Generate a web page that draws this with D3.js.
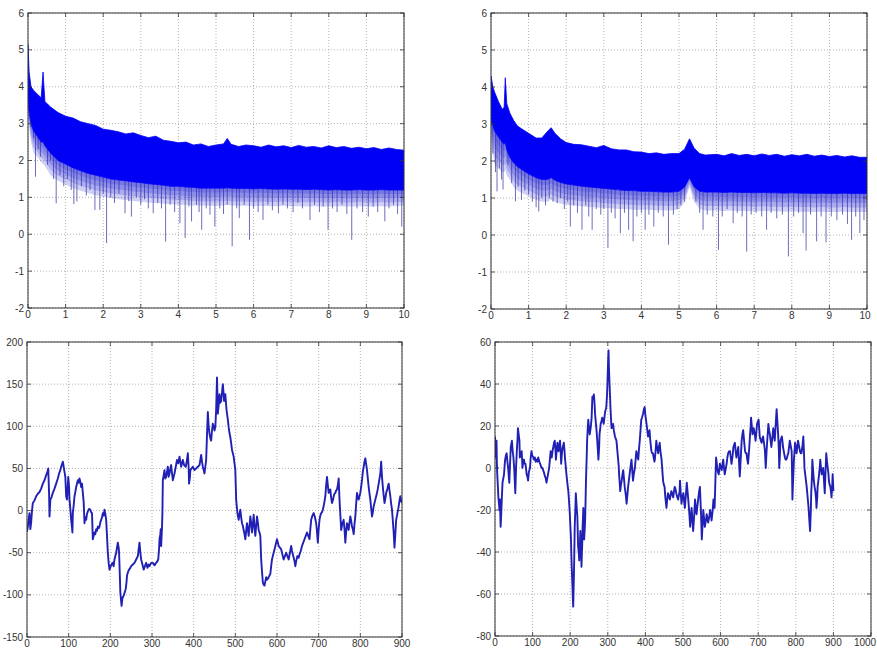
<!DOCTYPE html>
<html>
<head>
<meta charset="utf-8">
<script src="https://cdn.jsdelivr.net/npm/d3@7"></script>
<style>
  body { margin: 0; background: #fff; }
  svg text { font-family: "Liberation Sans", Arial, sans-serif; font-size: 10px; fill: #333; }
</style>
</head>
<body>
<svg id="fig" width="877" height="653"></svg>
<script>
// ---- top left spectrum: band edges ----
const tlX = [0,0.03,0.08,0.15,0.25,0.35,0.4,0.45,0.6,0.8,1.0,1.2,1.4,1.6,1.8,2.0,2.2,2.4,2.6,2.8,3.0,3.2,3.4,3.6,3.8,4.0,4.2,4.4,4.6,4.8,5.0,5.2,5.3,5.4,5.6,5.8,6.0,6.2,6.4,6.6,6.8,7.0,7.2,7.4,7.6,7.8,8.0,8.2,8.4,8.6,8.8,9.0,9.2,9.4,9.6,9.8,10];
const tlTop = [5.15,4.4,4.0,3.9,3.8,3.7,4.4,3.6,3.45,3.3,3.2,3.15,3.05,3.0,2.95,2.85,2.82,2.78,2.72,2.75,2.68,2.62,2.66,2.55,2.52,2.48,2.5,2.42,2.45,2.38,2.42,2.45,2.6,2.44,2.38,2.42,2.4,2.36,2.42,2.37,2.4,2.35,2.41,2.36,2.38,2.34,2.4,2.35,2.38,2.33,2.36,2.32,2.35,2.3,2.34,2.3,2.28];
const tlBottom = [3.6,3.3,3.0,2.8,2.65,2.5,2.5,2.4,2.2,2.0,1.9,1.8,1.72,1.65,1.6,1.55,1.5,1.47,1.45,1.42,1.4,1.37,1.35,1.33,1.3,1.3,1.28,1.27,1.25,1.25,1.25,1.25,1.26,1.25,1.24,1.24,1.23,1.24,1.23,1.22,1.23,1.22,1.22,1.21,1.22,1.21,1.2,1.21,1.2,1.2,1.21,1.2,1.2,1.21,1.2,1.2,1.2];
const tlFringe = [3.1,2.9,2.5,2.2,2.1,1.95,1.9,1.85,1.6,1.45,1.35,1.25,1.18,1.12,1.06,1.02,0.98,0.95,0.93,0.9,0.88,0.86,0.85,0.83,0.82,0.8,0.8,0.78,0.78,0.77,0.77,0.78,0.8,0.78,0.77,0.77,0.76,0.77,0.76,0.76,0.77,0.76,0.76,0.75,0.76,0.75,0.75,0.76,0.75,0.75,0.76,0.75,0.75,0.76,0.75,0.76,0.78];
const tlSpikes = [[0.08,2.9],[0.15,2.6],[0.2,1.56],[0.27,2.3],[0.33,2.1],[0.45,2.4],[0.52,1.88],[0.6,2.0],[0.68,1.5],[0.75,0.84],[0.85,1.6],[0.95,1.3],[1.05,1.5],[1.15,1.2],[1.22,0.82],[1.3,0.89],[1.42,1.3],[1.55,1.05],[1.65,1.2],[1.78,0.66],[1.91,0.66],[2.0,1.1],[2.09,-0.24],[2.2,1.0],[2.3,0.85],[2.42,1.1],[2.58,0.57],[2.68,0.9],[2.75,0.48],[2.88,1.0],[3.0,0.8],[3.1,0.95],[3.2,0.7],[3.33,0.57],[3.45,0.85],[3.55,0.7],[3.66,-0.2],[3.78,0.8],[3.9,0.6],[4.04,0.3],[4.18,-0.1],[4.28,0.75],[4.35,0.35],[4.48,0.8],[4.55,0.6],[4.62,0.12],[4.74,0.7],[4.84,0.53],[4.97,0.21],[5.1,0.7],[5.2,0.55],[5.3,0.8],[5.43,-0.33],[5.55,0.7],[5.62,0.44],[5.75,0.8],[5.89,-0.15],[6.0,0.7],[6.12,0.6],[6.25,0.39],[6.38,0.8],[6.5,0.65],[6.66,0.57],[6.78,0.8],[6.9,0.7],[7.05,0.6],[7.18,0.85],[7.3,0.7],[7.5,0.39],[7.62,0.8],[7.75,0.6],[7.85,0.75],[7.98,0.12],[8.1,0.7],[8.22,0.6],[8.35,0.8],[8.48,0.55],[8.61,-0.15],[8.75,0.7],[8.9,0.6],[9.05,0.48],[9.18,0.75],[9.3,0.6],[9.49,0.35],[9.6,0.7],[9.72,0.8],[9.83,0.55],[9.94,0.21]];

// ---- top right spectrum ----
const trX = [0,0.05,0.1,0.2,0.3,0.35,0.38,0.42,0.5,0.6,0.7,0.8,1.0,1.2,1.35,1.5,1.6,1.7,1.85,2.0,2.2,2.4,2.6,2.8,3.0,3.2,3.4,3.6,3.8,4.0,4.2,4.4,4.6,4.8,5.0,5.15,5.28,5.4,5.55,5.7,6.0,6.2,6.4,6.6,6.8,7.0,7.2,7.4,7.6,7.8,8.0,8.2,8.4,8.6,8.8,9.0,9.2,9.4,9.6,9.8,10];
const trTop = [4.3,4.0,3.85,3.6,3.4,3.45,4.25,3.55,3.3,3.1,2.95,2.88,2.75,2.62,2.62,2.8,2.9,2.75,2.6,2.5,2.45,2.44,2.4,2.36,2.42,2.33,2.3,2.3,2.25,2.24,2.2,2.22,2.18,2.2,2.2,2.32,2.6,2.35,2.2,2.16,2.18,2.14,2.2,2.15,2.18,2.14,2.19,2.15,2.18,2.13,2.17,2.14,2.18,2.13,2.16,2.12,2.15,2.11,2.14,2.1,2.1];
const trBottom = [3.1,2.95,2.8,2.65,2.5,2.45,2.5,2.3,2.1,1.95,1.85,1.78,1.65,1.55,1.5,1.5,1.55,1.48,1.42,1.38,1.35,1.32,1.3,1.28,1.26,1.24,1.22,1.2,1.2,1.18,1.18,1.17,1.16,1.16,1.18,1.3,1.55,1.3,1.18,1.16,1.16,1.15,1.16,1.15,1.15,1.14,1.15,1.14,1.14,1.13,1.14,1.13,1.13,1.12,1.13,1.12,1.12,1.13,1.12,1.12,1.12];
const trFringe = [2.6,2.2,1.9,1.8,1.7,1.7,1.75,1.6,1.5,1.3,1.2,1.15,1.05,0.95,0.9,0.9,0.95,0.9,0.85,0.82,0.8,0.78,0.76,0.75,0.73,0.72,0.7,0.7,0.68,0.68,0.68,0.67,0.67,0.66,0.7,0.9,1.3,0.9,0.7,0.66,0.66,0.65,0.66,0.65,0.65,0.64,0.65,0.64,0.64,0.63,0.64,0.63,0.63,0.62,0.63,0.62,0.62,0.63,0.62,0.62,0.62];
const trSpikes = [[0.05,2.2],[0.12,1.7],[0.16,1.18],[0.22,1.8],[0.28,1.5],[0.32,1.23],[0.45,1.9],[0.55,1.4],[0.65,0.91],[0.72,1.3],[0.81,0.95],[0.9,1.2],[1.0,1.1],[1.1,0.9],[1.2,0.75],[1.27,0.64],[1.35,1.0],[1.45,0.8],[1.55,1.0],[1.65,0.9],[1.76,0.86],[1.85,1.0],[1.95,0.7],[2.04,0.9],[2.11,0.23],[2.2,0.8],[2.3,0.6],[2.42,0.14],[2.52,0.8],[2.6,0.5],[2.69,0.14],[2.8,0.7],[2.92,0.55],[3.0,0.7],[3.11,-0.35],[3.2,0.6],[3.3,0.45],[3.44,0.05],[3.55,0.6],[3.66,0.14],[3.78,-0.17],[3.88,0.5],[4.0,0.6],[4.1,0.14],[4.2,0.55],[4.33,0.23],[4.45,0.6],[4.58,0.5],[4.72,-0.26],[4.85,0.55],[4.95,0.7],[5.05,0.8],[5.15,0.9],[5.45,0.9],[5.55,0.6],[5.64,0.14],[5.75,0.55],[5.9,0.5],[6.05,-0.4],[6.15,0.5],[6.28,0.7],[6.44,0.32],[6.55,0.6],[6.68,0.5],[6.8,-0.45],[6.92,0.55],[7.05,0.6],[7.2,0.5],[7.33,0.14],[7.45,0.6],[7.6,0.45],[7.75,0.55],[7.91,-0.58],[8.05,0.5],[8.18,0.6],[8.3,0.05],[8.38,-0.42],[8.5,0.55],[8.66,-0.17],[8.78,0.5],[8.91,-0.2],[9.05,0.5],[9.2,0.4],[9.35,0.55],[9.48,0.3],[9.59,-0.13],[9.7,0.5],[9.81,0.05],[9.92,0.4]];

// ---- bottom left series (sample, value) ----
const blSeries = [[0,-25],[2,-19],[4,-10],[6,-3],[8,-22],[10,-14],[12,0],[14,9],[18,12],[22,17],[26,20],[30,22],[34,26],[38,32],[42,36],[46,42],[49,46],[51,50],[53,20],[54,-7],[56,13],[59,16],[62,21],[66,26],[70,32],[74,38],[77,44],[80,48],[82,52],[84,55],[86,58],[88,52],[90,46],[92,40],[94,17],[96,13],[98,30],[99,40],[101,28],[102,13],[104,2],[106,-11],[108,-20],[109,-26],[110,-3],[112,6],[114,17],[116,22],[118,28],[120,32],[122,36],[124,33],[126,38],[128,34],[130,28],[132,32],[134,21],[136,10],[138,-15],[140,-8],[142,-11],[144,-4],[146,-1],[149,2],[152,1],[154,-2],[156,-3],[158,-34],[160,-30],[162,-26],[164,-28],[166,-22],[168,-24],[170,-19],[172,-21],[174,-19],[176,-14],[178,-11],[180,-8],[182,-3],[184,-6],[186,1],[188,-4],[190,-11],[192,-30],[194,-50],[196,-62],[198,-70],[201,-66],[205,-62],[208,-66],[210,-58],[212,-54],[214,-50],[216,-44],[218,-38],[220,-44],[221,-50],[223,-80],[224,-97],[226,-108],[227,-113],[229,-104],[232,-101],[235,-96],[237,-93],[239,-84],[240,-77],[243,-72],[245,-70],[248,-68],[250,-66],[254,-64],[258,-62],[262,-58],[266,-54],[268,-46],[270,-38],[272,-50],[274,-58],[277,-64],[280,-70],[283,-66],[286,-62],[289,-68],[292,-64],[294,-66],[298,-62],[302,-62],[306,-65],[310,-62],[313,-60],[315,-58],[317,-45],[318,-34],[320,-28],[321,-22],[322,-42],[324,-20],[325,-3],[326,36],[328,42],[330,48],[332,38],[334,40],[336,46],[338,52],[340,40],[342,44],[344,50],[346,54],[348,44],[350,36],[352,40],[354,44],[357,52],[360,60],[363,56],[366,64],[368,58],[370,52],[372,56],[374,60],[377,54],[381,52],[384,60],[386,68],[388,50],[389,32],[391,40],[392,48],[395,50],[398,52],[402,48],[406,50],[410,52],[414,54],[416,60],[418,66],[420,58],[422,52],[424,48],[426,44],[428,52],[430,60],[432,90],[434,117],[436,100],[438,91],[440,86],[442,83],[444,95],[446,103],[448,100],[450,95],[452,99],[454,120],[456,158],[458,115],[460,125],[462,138],[464,128],[466,130],[468,140],[470,150],[472,138],[473,130],[475,134],[476,138],[478,125],[479,119],[482,108],[484,99],[486,92],[488,87],[490,80],[492,72],[494,68],[496,64],[498,56],[500,48],[502,13],[505,-3],[508,-11],[510,-4],[512,1],[514,-8],[516,-15],[518,-18],[520,-23],[522,-28],[524,-34],[526,-24],[528,-15],[530,-22],[532,-30],[534,-18],[536,-7],[538,-15],[540,-26],[542,-16],[544,-5],[546,-20],[548,-30],[550,-18],[552,-7],[554,-14],[556,-23],[558,-26],[560,-30],[562,-58],[564,-72],[566,-85],[568,-88],[570,-89],[572,-84],[574,-79],[576,-82],[578,-81],[581,-78],[584,-75],[586,-66],[588,-58],[590,-54],[592,-50],[595,-44],[598,-38],[600,-34],[602,-38],[604,-42],[607,-44],[610,-46],[613,-52],[616,-58],[619,-54],[622,-50],[625,-54],[628,-58],[631,-50],[634,-42],[636,-48],[639,-54],[642,-60],[644,-66],[646,-60],[649,-54],[652,-56],[654,-52],[657,-48],[660,-42],[663,-38],[666,-34],[669,-30],[672,-26],[675,-30],[678,-34],[680,-22],[682,-11],[685,-6],[688,-3],[691,-8],[694,-15],[696,-25],[698,-38],[700,-22],[702,-11],[704,-6],[706,-3],[708,-2],[710,1],[713,8],[716,17],[718,30],[720,40],[722,30],[724,21],[726,24],[728,25],[730,15],[732,9],[734,12],[736,17],[738,20],[740,21],[742,24],[744,25],[746,30],[748,38],[750,13],[752,-5],[754,-23],[757,-15],[760,-11],[762,-22],[764,-38],[766,-25],[768,-15],[770,-18],[772,-23],[774,-14],[776,-7],[778,-12],[780,-19],[782,-22],[784,-28],[786,-16],[788,-7],[790,8],[792,21],[794,16],[796,13],[798,17],[800,21],[802,28],[804,36],[806,46],[808,52],[810,58],[812,62],[814,55],[816,48],[818,38],[820,28],[822,20],[824,13],[826,3],[828,-7],[830,-2],[832,5],[834,9],[836,13],[838,17],[840,21],[842,26],[844,32],[846,38],[848,44],[850,58],[852,40],[854,28],[856,18],[858,9],[860,14],[862,21],[865,26],[868,32],[870,24],[872,17],[874,8],[876,1],[878,-12],[880,-26],[882,-44],[884,-28],[886,-11],[888,-6],[889,-3],[891,2],[892,5],[894,12],[896,17],[898,12],[900,9]];

// ---- bottom right series ----
const brSeries = [[0,15],[2,5],[3,8],[4,13],[5,2],[6,-3],[8,-10],[9,-14],[11,-18],[12,-20],[13,-15],[15,-28],[17,-20],[18,-15],[20,-7],[22,-5],[24,-3],[26,2],[27,4],[29,6],[31,7],[33,3],[35,0],[37,-5],[38,-7],[40,2],[42,10],[44,12],[45,13],[47,8],[49,5],[51,0],[53,-8],[54,-12],[56,0],[58,8],[60,14],[61,19],[63,16],[65,13],[66,5],[68,6],[71,8],[73,0],[75,3],[77,4],[79,2],[81,2],[83,-1],[84,-3],[86,-4],[88,-6],[90,-2],[93,0],[95,5],[97,8],[99,6],[102,5],[104,4],[106,5],[108,3],[111,4],[113,3],[115,5],[118,3],[120,2],[122,1],[124,0],[126,0],[128,-1],[130,-2],[133,-4],[135,-5],[137,-7],[140,-4],[142,-2],[144,0],[146,4],[148,8],[150,6],[151,5],[153,8],[155,10],[157,12],[159,13],[161,8],[162,4],[164,8],[166,12],[168,9],[169,8],[171,11],[173,13],[175,6],[176,2],[178,7],[180,10],[182,11],[183,12],[185,8],[186,5],[188,1],[190,-3],[193,-8],[195,-11],[197,-16],[199,-22],[201,-30],[202,-34],[204,-47],[206,-56],[207,-62],[208,-66],[209,-58],[210,-50],[211,-40],[212,-28],[214,-18],[215,-12],[217,-18],[219,-23],[221,-37],[223,-41],[224,-44],[226,-36],[227,-30],[229,-40],[230,-47],[232,-36],[233,-28],[235,-19],[236,-26],[237,-34],[239,-28],[240,-23],[242,-6],[244,6],[245,13],[247,20],[248,23],[250,19],[252,16],[255,20],[257,24],[259,34],[261,33],[263,35],[265,30],[266,26],[268,22],[270,18],[272,13],[273,10],[275,4],[277,10],[278,16],[280,19],[281,21],[283,22],[285,24],[287,23],[289,21],[291,24],[293,27],[295,28],[296,29],[298,35],[299,40],[301,52],[302,56],[303,48],[304,43],[306,34],[307,29],[309,22],[310,19],[312,20],[314,21],[316,18],[319,15],[321,14],[323,13],[325,9],[327,5],[329,1],[330,-3],[332,-8],[333,-11],[335,-8],[337,-6],[339,-3],[341,-1],[343,-5],[345,-9],[348,-13],[350,-17],[352,-13],[354,-9],[356,-6],[358,-3],[360,0],[363,4],[365,-1],[367,-6],[369,-3],[372,0],[374,4],[376,8],[378,6],[381,4],[383,9],[385,13],[387,18],[389,23],[391,24],[394,26],[396,28],[398,29],[400,25],[403,21],[405,18],[407,15],[409,17],[411,18],[413,13],[416,8],[418,7],[420,7],[422,5],[424,3],[425,4],[427,8],[429,13],[431,10],[434,7],[436,10],[438,12],[440,8],[443,4],[445,-1],[447,-6],[449,-8],[451,-9],[453,-14],[456,-19],[458,-15],[460,-12],[462,-13],[465,-15],[467,-13],[469,-11],[471,-12],[474,-14],[476,-11],[478,-9],[480,-10],[482,-12],[485,-14],[487,-15],[489,-13],[491,-11],[492,-6],[494,-12],[496,-17],[498,-14],[501,-12],[503,-16],[505,-19],[508,-12],[510,-7],[512,-11],[514,-15],[517,-22],[519,-28],[521,-23],[523,-19],[525,-25],[527,-30],[530,-22],[532,-15],[534,-19],[536,-22],[539,-17],[541,-14],[543,-11],[545,-9],[548,-22],[550,-34],[552,-27],[554,-20],[556,-24],[558,-28],[561,-25],[563,-22],[565,-24],[567,-26],[570,-23],[572,-20],[574,-22],[576,-25],[579,-20],[581,-15],[583,-17],[584,-19],[586,-7],[588,5],[590,2],[591,0],[593,-2],[595,-3],[597,0],[598,2],[601,0],[603,-1],[605,2],[607,4],[609,0],[611,-3],[614,0],[616,2],[618,5],[620,7],[623,8],[625,8],[627,5],[629,2],[632,6],[634,10],[636,11],[638,12],[640,8],[642,5],[645,8],[647,10],[649,3],[651,-4],[654,6],[656,13],[658,16],[660,18],[663,12],[665,8],[667,7],[669,7],[671,4],[673,2],[676,9],[678,15],[680,20],[681,24],[683,20],[685,16],[687,18],[688,19],[691,16],[693,13],[695,17],[697,21],[699,22],[701,23],[703,18],[704,15],[707,13],[709,12],[711,14],[713,15],[716,11],[718,8],[719,4],[720,0],[722,7],[724,13],[726,18],[727,21],[729,18],[731,16],[733,13],[735,10],[738,15],[740,19],[742,16],[744,13],[747,22],[749,28],[751,22],[753,16],[755,8],[756,0],[758,7],[759,13],[761,14],[763,15],[765,12],[766,10],[769,7],[771,5],[773,4],[775,4],[778,6],[780,7],[782,10],[784,13],[787,10],[789,8],[790,-2],[791,-15],[793,-5],[795,4],[797,9],[798,12],[800,10],[802,7],[804,10],[806,13],[809,10],[811,8],[813,7],[815,7],[818,11],[820,15],[822,6],[823,0],[825,-3],[827,-6],[829,-9],[830,-11],[832,-15],[834,-19],[836,-25],[838,-30],[840,-20],[841,-12],[843,-4],[844,4],[846,-1],[848,-6],[850,-9],[852,-11],[854,-15],[855,-19],[857,-14],[858,-9],[860,-6],[862,-3],[864,1],[865,4],[867,0],[869,-3],[871,-2],[873,0],[875,-6],[877,-12],[879,-2],[881,7],[883,3],[885,0],[887,-3],[888,-6],[890,-8],[892,-9],[894,-12],[895,-14],[897,-8],[898,-3],[900,-11]];

// axis ranges and ticks
const spectrumXTicks = d3.range(0, 11, 1);
const spectrumYTicks = d3.range(-2, 7, 1);
const blXTicks = d3.range(0, 1000, 100);
const blYTicks = d3.range(-150, 250, 50);
const brXTicks = d3.range(0, 1100, 100);
const brYTicks = d3.range(-80, 80, 20);

const svg = d3.select("#fig");
const W = +svg.attr("width");

const panels = [
    { id: "tl", left: 28, top: 13, w: 376, h: 295, xd: [0, 10], yd: [-2, 6], xt: spectrumXTicks, yt: spectrumYTicks,
      band: { x: tlX, top: tlTop, bottom: tlBottom, fringe: tlFringe, spikes: tlSpikes } },
    { id: "tr", left: 491, top: 13, w: 376, h: 296, xd: [0, 10], yd: [-2, 6], xt: spectrumXTicks, yt: spectrumYTicks,
      band: { x: trX, top: trTop, bottom: trBottom, fringe: trFringe, spikes: trSpikes } },
    { id: "bl", left: 27, top: 342, w: 375, h: 295, xd: [0, 900], yd: [-150, 200], xt: blXTicks, yt: blYTicks,
      series: blSeries },
    { id: "br", left: 495, top: 342, w: 376, h: 294, xd: [0, 1000], yd: [-80, 60], xt: brXTicks, yt: brYTicks,
      series: brSeries }
];

panels.forEach(p => {
    const x = d3.scaleLinear().domain(p.xd).range([0, p.w]);
    const y = d3.scaleLinear().domain(p.yd).range([p.h, 0]);
    const g = svg.append("g").attr("transform", `translate(${p.left},${p.top})`);

    g.append("clipPath").attr("id", "clip-" + p.id)
        .append("rect").attr("width", p.w).attr("height", p.h);

    // dotted grid
    g.selectAll(".gx").data(p.xt).enter().append("line")
        .attr("x1", d => x(d)).attr("x2", d => x(d))
        .attr("y1", 0).attr("y2", p.h)
        .attr("stroke", "#a0a0a0").attr("stroke-width", 0.8)
        .attr("stroke-dasharray", "1,2");
    g.selectAll(".gy").data(p.yt).enter().append("line")
        .attr("x1", 0).attr("x2", p.w)
        .attr("y1", d => y(d)).attr("y2", d => y(d))
        .attr("stroke", "#a0a0a0").attr("stroke-width", 0.8)
        .attr("stroke-dasharray", "1,2");

    const plot = g.append("g").attr("clip-path", `url(#clip-${p.id})`);

    if (p.band) {
        const b = p.band;
        const idx = d3.range(b.x.length);
        const lowAt = d3.scaleLinear().domain(b.x).range(b.bottom);

        // thin downward spikes, drawn behind the band
        plot.selectAll(".spike").data(b.spikes).enter().append("line")
            .attr("x1", d => x(d[0])).attr("x2", d => x(d[0]))
            .attr("y1", d => y(d[1]))
            .attr("y2", d => y(lowAt(d[0]) + 0.3))
            .attr("stroke", "#4848a8").attr("stroke-opacity", 0.8)
            .attr("stroke-width", 1);

        // fading zone of dense short spikes: a few stacked layers between bottom and fringe
        [0.25, 0.5, 0.75, 1].forEach(k => {
            plot.append("path")
                .attr("d", d3.area()
                    .x(i => x(b.x[i]))
                    .y0(i => y(b.bottom[i] + (b.fringe[i] - b.bottom[i]) * k))
                    .y1(i => y(b.bottom[i]))(idx))
                .attr("fill", "#2a2ad0").attr("fill-opacity", 0.22);
        });

        // solid dense part of the trace
        plot.append("path")
            .attr("d", d3.area()
                .x(i => x(b.x[i]))
                .y0(i => y(b.bottom[i]))
                .y1(i => y(b.top[i]))(idx))
            .attr("fill", "#0000f5")
            .attr("stroke", "#0000f5").attr("stroke-width", 0.8);
    }

    if (p.series) {
        plot.append("path")
            .datum(p.series)
            .attr("d", d3.line().x(d => x(d[0])).y(d => y(d[1])))
            .attr("fill", "none")
            .attr("stroke", "#2020b4")
            .attr("stroke-width", 1.9)
            .attr("stroke-linejoin", "round");
    }

    // box
    g.append("rect").attr("width", p.w).attr("height", p.h)
        .attr("fill", "none").attr("stroke", "#333").attr("stroke-width", 1);

    // inward tick marks
    const tk = 4;
    g.selectAll(".tkx").data(p.xt).enter().append("path")
        .attr("d", d => `M${x(d)},${p.h}v${-tk}M${x(d)},0v${tk}`)
        .attr("stroke", "#333").attr("stroke-width", 0.8);
    g.selectAll(".tky").data(p.yt).enter().append("path")
        .attr("d", d => `M0,${y(d)}h${tk}M${p.w},${y(d)}h${-tk}`)
        .attr("stroke", "#333").attr("stroke-width", 0.8);

    // tick labels (the last one is pulled in so it stays on the page)
    g.selectAll(".lx").data(p.xt).enter().append("text")
        .attr("x", d => Math.min(x(d), W - p.left - 12))
        .attr("y", p.h + 3)
        .attr("dy", "0.71em").attr("text-anchor", "middle")
        .text(d => d);
    g.selectAll(".ly").data(p.yt).enter().append("text")
        .attr("x", -4).attr("y", d => y(d))
        .attr("dy", "0.35em").attr("text-anchor", "end")
        .text(d => d);
});
</script>
</body>
</html>
